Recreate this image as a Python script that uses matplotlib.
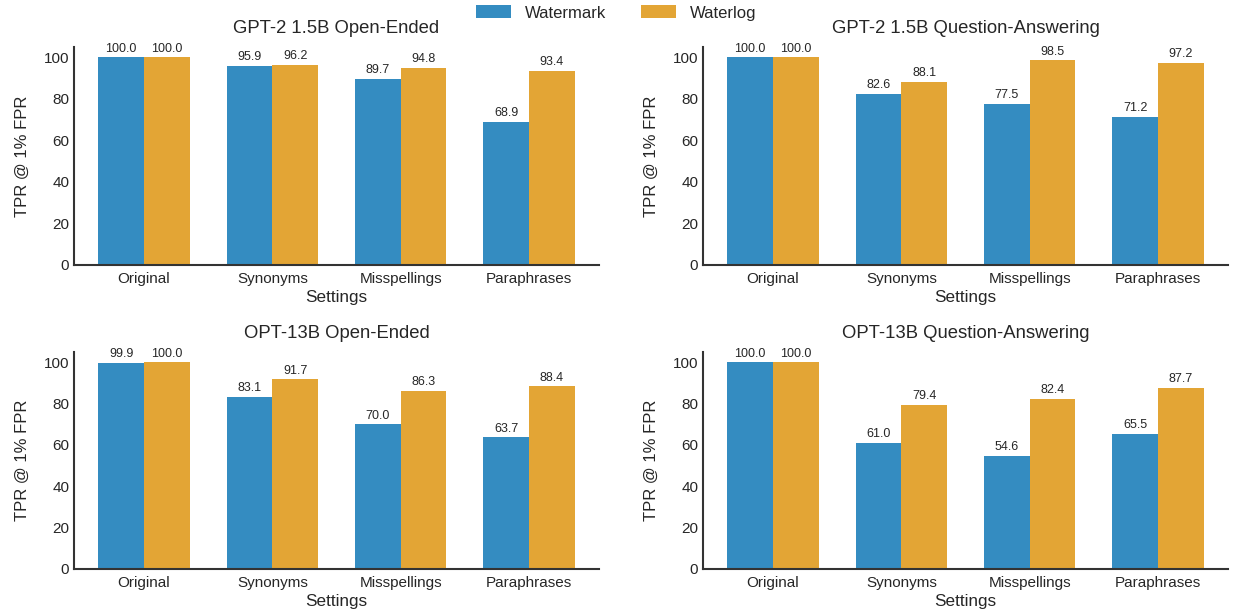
import matplotlib
matplotlib.use("Agg")
import matplotlib.pyplot as plt
import numpy as np

categories = ["Original", "Synonyms", "Misspellings", "Paraphrases"]
titles = ["GPT-2 1.5B Open-Ended", "GPT-2 1.5B Question-Answering",
          "OPT-13B Open-Ended", "OPT-13B Question-Answering"]
watermark = [
    [100.0, 95.9, 89.7, 68.9],
    [100.0, 82.6, 77.5, 71.2],
    [99.9, 83.1, 70.0, 63.7],
    [100.0, 61.0, 54.6, 65.5],
]
waterlog = [
    [100.0, 96.2, 94.8, 93.4],
    [100.0, 88.1, 98.5, 97.2],
    [100.0, 91.7, 86.3, 88.4],
    [100.0, 79.4, 82.4, 87.7],
]
series_names = ["Watermark", "Waterlog"]
colors = ["#348CC1", "#E3A535"]

plt.rcParams['font.family'] = ['Liberation Sans', 'DejaVu Sans']
fig = plt.figure(figsize=(12.33, 6.11), dpi=100)

W, H = 1233, 611
boxes = [
    (74, 47, 525, 218),
    (703, 47, 525, 218),
    (74, 352, 525, 217),
    (703, 352, 525, 217),
]
x = np.arange(len(categories))
w = 0.355
txt = "#262626"
handles = None
for i, (l, t, bw, bh) in enumerate(boxes):
    ax = fig.add_axes([l / W, 1 - (t + bh) / H, bw / W, bh / H])
    b1 = ax.bar(x - w / 2, watermark[i], w, color=colors[0], label=series_names[0])
    b2 = ax.bar(x + w / 2, waterlog[i], w, color=colors[1], label=series_names[1])
    for bars in (b1, b2):
        ax.bar_label(bars, labels=[f"{v:.1f}" for v in bars.datavalues],
                     padding=2, fontsize=9, color=txt)
    ax.set_ylim(0, 105)
    ax.set_xlim(-0.545, 3.545)
    ax.set_xticks(x)
    ax.set_xticklabels(categories, fontsize=11, color=txt)
    ax.set_yticks([0, 20, 40, 60, 80, 100])
    ax.tick_params(axis='y', labelsize=11, labelcolor=txt, length=0, pad=3.5)
    ax.tick_params(axis='x', length=0, pad=5)
    ax.set_ylabel("TPR @ 1% FPR", fontsize=12, color=txt, labelpad=10)
    ax.set_xlabel("Settings", fontsize=12.3, color=txt, labelpad=3)
    ax.set_title(titles[i], fontsize=13.3, color=txt, pad=10)
    for s in ("top", "right"):
        ax.spines[s].set_visible(False)
    for s in ("left", "bottom"):
        ax.spines[s].set_color("#333333")
        ax.spines[s].set_linewidth(1.5)
    handles = (b1, b2)

fig.legend(handles, series_names, loc="center", bbox_to_anchor=(0.5, 1 - 13 / H),
           ncol=2, frameon=False, fontsize=12, handlelength=2.1, handleheight=0.78,
           columnspacing=2.1, handletextpad=0.84, labelcolor=txt,
           borderpad=0, borderaxespad=0)
fig.savefig("out.png", dpi=100, facecolor="white")
